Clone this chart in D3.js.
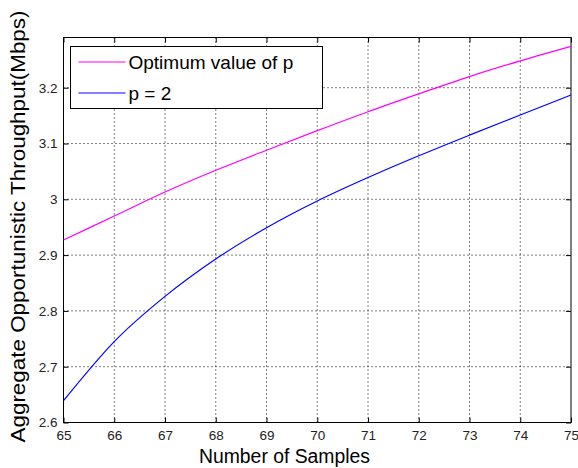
<!DOCTYPE html>
<html>
<head>
<meta charset="utf-8">
<script src="https://cdn.jsdelivr.net/npm/d3@7"></script>
<style>
  body { margin: 0; background: #fff; }
  svg { display: block; font-family: Arial, "Liberation Sans", sans-serif; }
</style>
</head>
<body>
<div id="chart"></div>
<script>
// Data
const samples = [65, 66, 67, 68, 69, 70, 71, 72, 73, 74, 75];
const optimumP = [2.927, 2.970, 3.013, 3.052, 3.088, 3.123, 3.157, 3.189, 3.220, 3.248, 3.274];
const pEquals2 = [2.639, 2.745, 2.826, 2.893, 2.949, 2.997, 3.039, 3.078, 3.115, 3.151, 3.187];
const xTicks = [65, 66, 67, 68, 69, 70, 71, 72, 73, 74, 75];
const yTicks = [2.6, 2.7, 2.8, 2.9, 3, 3.1, 3.2];
const seriesNames = ["Optimum value of p", "p = 2"];
const seriesColors = ["#ff00ff", "#0000ff"];

const width = 578;
const height = 468;
const margin = { top: 37.5, right: 7, bottom: 45.5, left: 63.5 };
const plotW = width - margin.left - margin.right;
const plotH = height - margin.top - margin.bottom;

const svg = d3.select("#chart")
    .append("svg")
    .attr("width", width)
    .attr("height", height);

const x = d3.scaleLinear().domain([65, 75]).range([0, plotW]);
const y = d3.scaleLinear().domain([2.6, 3.29]).range([plotH, 0]);

const g = svg.append("g")
    .attr("transform", `translate(${margin.left},${margin.top})`);

// grid lines (dotted)
g.append("g")
    .selectAll("line")
    .data(xTicks.slice(1, -1))
    .enter().append("line")
    .attr("x1", d => x(d)).attr("x2", d => x(d))
    .attr("y1", 0).attr("y2", plotH)
    .attr("stroke", "#000")
    .attr("stroke-width", 1)
    .attr("stroke-dasharray", "1,3");

g.append("g")
    .selectAll("line")
    .data(yTicks.slice(1))
    .enter().append("line")
    .attr("x1", 0).attr("x2", plotW)
    .attr("y1", d => y(d)).attr("y2", d => y(d))
    .attr("stroke", "#000")
    .attr("stroke-width", 1)
    .attr("stroke-dasharray", "1,3");

// axes with inward ticks
const xAxis = g.append("g")
    .attr("transform", `translate(0,${plotH})`)
    .call(d3.axisBottom(x).tickValues(xTicks).tickSizeInner(-5).tickSizeOuter(0).tickPadding(8)
        .tickFormat(d3.format("d")));
const xTop = g.append("g")
    .call(d3.axisTop(x).tickValues(xTicks).tickSizeInner(-5).tickSizeOuter(0).tickFormat(""));
const yAxis = g.append("g")
    .call(d3.axisLeft(y).tickValues(yTicks).tickSizeInner(-5).tickSizeOuter(0).tickPadding(6)
        .tickFormat(d => d === 3 ? "3" : d3.format(".1f")(d)));
const yRight = g.append("g")
    .attr("transform", `translate(${plotW},0)`)
    .call(d3.axisRight(y).tickValues(yTicks).tickSizeInner(-5).tickSizeOuter(0).tickFormat(""));

[xAxis, xTop, yAxis, yRight].forEach(a => {
    a.select(".domain").remove();
    a.selectAll("line").attr("stroke", "#000");
    a.selectAll("text")
        .attr("font-size", 13.5)
        .attr("fill", "#222")
        .attr("font-family", "Arial, 'Liberation Sans', sans-serif");
});

// frame
g.append("rect")
    .attr("x", 0).attr("y", 0)
    .attr("width", plotW).attr("height", plotH)
    .attr("fill", "none")
    .attr("stroke", "#000")
    .attr("stroke-width", 1);

// lines
const line = d3.line()
    .x((d, i) => x(samples[i]))
    .y(d => y(d))
    .curve(d3.curveMonotoneX);

[optimumP, pEquals2].forEach((series, i) => {
    g.append("path")
        .datum(series)
        .attr("d", line)
        .attr("fill", "none")
        .attr("stroke", seriesColors[i])
        .attr("stroke-width", 1.2);
});

// legend
const legend = svg.append("g").attr("transform", "translate(70.5,46.5)");
legend.append("rect")
    .attr("width", 252)
    .attr("height", 62)
    .attr("fill", "#fff")
    .attr("stroke", "#000")
    .attr("stroke-width", 1);

seriesNames.forEach((name, i) => {
    const ly = 15.5 + i * 31;
    legend.append("line")
        .attr("x1", 8).attr("x2", 55)
        .attr("y1", ly).attr("y2", ly)
        .attr("stroke", seriesColors[i])
        .attr("stroke-width", 1.2);
    legend.append("text")
        .attr("x", 58)
        .attr("y", ly)
        .attr("dy", "0.35em")
        .attr("font-size", 19)
        .attr("fill", "#000")
        .text(name);
});

// axis titles
svg.append("text")
    .attr("x", 284.5)
    .attr("y", 463)
    .attr("text-anchor", "middle")
    .attr("font-size", 20)
    .attr("textLength", 171)
    .attr("lengthAdjust", "spacingAndGlyphs")
    .text("Number of Samples");

svg.append("text")
    .attr("transform", "translate(25,226.5) rotate(-90)")
    .attr("text-anchor", "middle")
    .attr("font-size", 20)
    .attr("textLength", 432)
    .attr("lengthAdjust", "spacingAndGlyphs")
    .text("Aggregate Opportunistic Throughput(Mbps)");
</script>
</body>
</html>
